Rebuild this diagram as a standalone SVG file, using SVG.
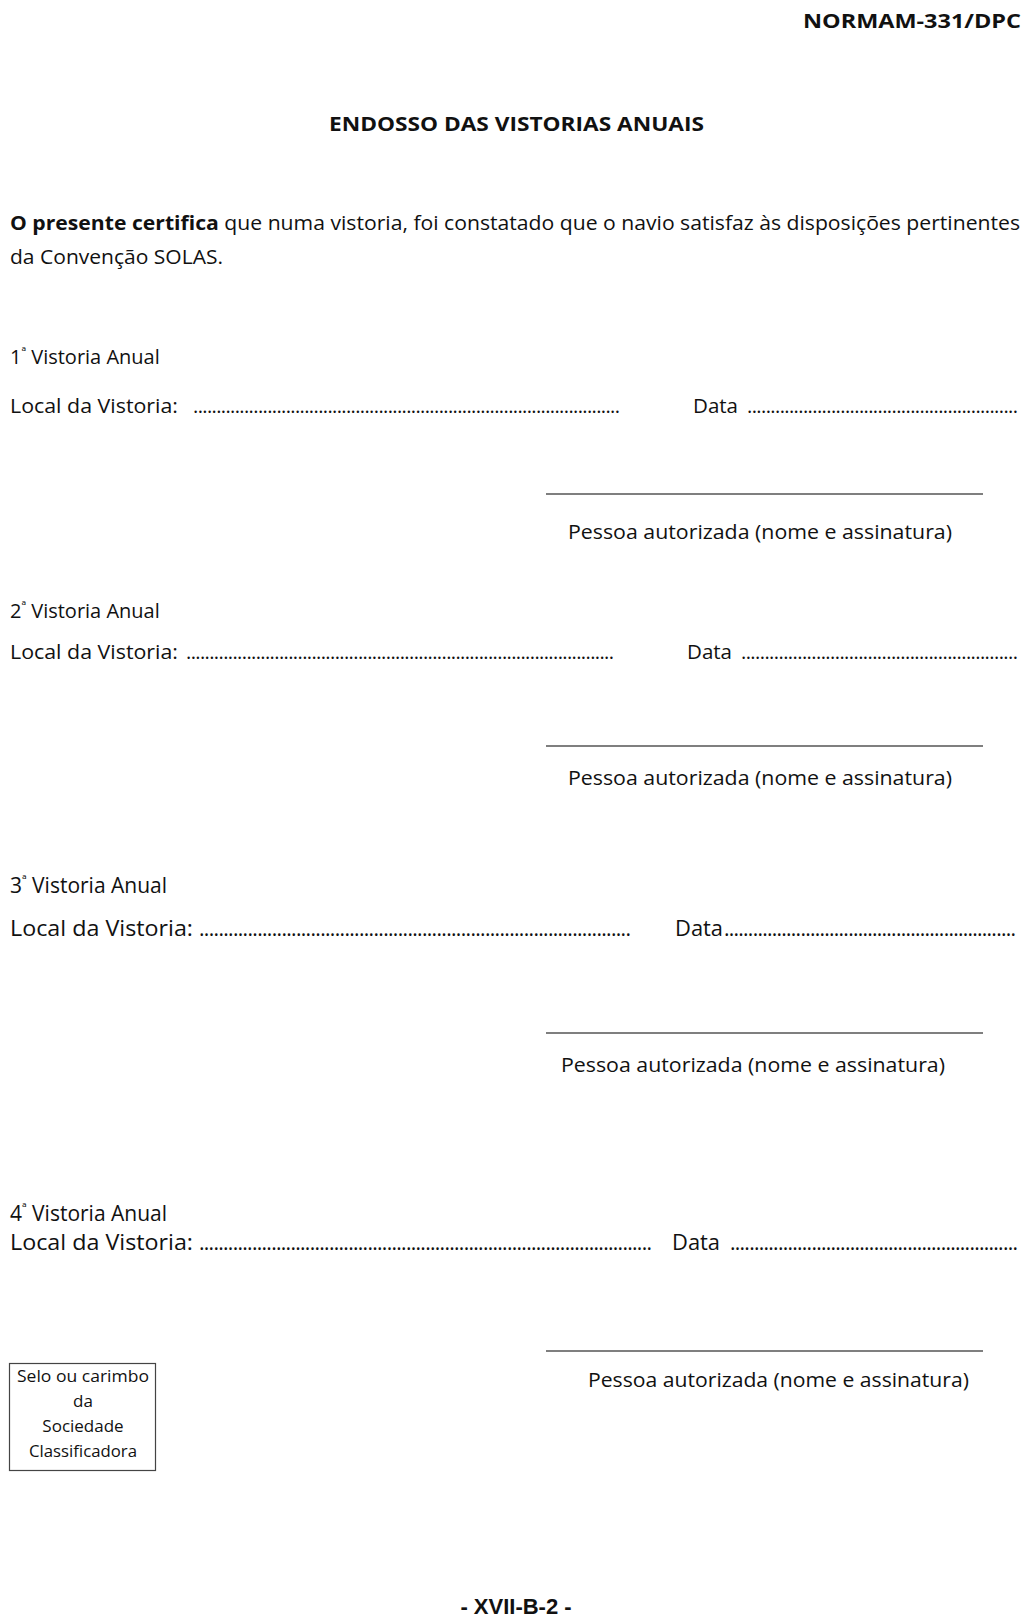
<svg xmlns="http://www.w3.org/2000/svg" width="1024" height="1620" viewBox="0 0 1024 1620">
<style>
text{font-family:"Open Sans","Noto Sans","Liberation Sans",sans-serif;fill:#111;}
.b{font-weight:bold;}
.t{font-size:20px;}
.t2{font-size:21px;}
.sm{font-size:17px;}
.sup{font-size:13px;}
.sig{stroke:#555;stroke-width:1.6;}
.ft{font-family:"Liberation Sans",Arial,sans-serif;font-weight:bold;font-size:22px;}
</style>
<rect width="1024" height="1620" fill="#fff"/>
<g id="header">
<text class="b" x="803" y="28" font-size="20" textLength="218" lengthAdjust="spacingAndGlyphs">NORMAM-331/DPC</text>
<text class="b" x="329" y="131" font-size="20" textLength="375" lengthAdjust="spacingAndGlyphs">ENDOSSO DAS VISTORIAS ANUAIS</text>
</g>
<g id="intro">
<text class="t" x="10" y="230" textLength="1010" lengthAdjust="spacingAndGlyphs"><tspan class="b">O presente certifica</tspan> que numa vistoria, foi constatado que o navio satisfaz às disposições pertinentes</text>
<text class="t" x="10" y="264" textLength="213" lengthAdjust="spacingAndGlyphs">da Convenção SOLAS.</text>
</g>
<g id="vistoria1">
<text class="t" x="10" y="364">1<tspan class="sup" dy="-8">ª</tspan><tspan dy="8"> </tspan><tspan>Vistoria Anual</tspan></text>
<text class="t" x="10" y="413" textLength="168" lengthAdjust="spacingAndGlyphs">Local da Vistoria:</text>
<text class="t" x="193" y="413" textLength="427" lengthAdjust="spacing">............................................................................................</text>
<text class="t" x="693" y="413" textLength="45" lengthAdjust="spacingAndGlyphs">Data</text>
<text class="t" x="747" y="413" textLength="271" lengthAdjust="spacing">..........................................................</text>
<line class="sig" x1="546" y1="494" x2="983" y2="494"/>
<text class="t" x="568" y="539" textLength="384" lengthAdjust="spacingAndGlyphs">Pessoa autorizada (nome e assinatura)</text>
</g>
<g id="vistoria2">
<text class="t" x="10" y="618">2<tspan class="sup" dy="-8">ª</tspan><tspan dy="8"> </tspan><tspan>Vistoria Anual</tspan></text>
<text class="t" x="10" y="659" textLength="168" lengthAdjust="spacingAndGlyphs">Local da Vistoria:</text>
<text class="t" x="186" y="659" textLength="428" lengthAdjust="spacing">............................................................................................</text>
<text class="t" x="687" y="659" textLength="45" lengthAdjust="spacingAndGlyphs">Data</text>
<text class="t" x="741" y="659" textLength="277" lengthAdjust="spacing">...........................................................</text>
<line class="sig" x1="546" y1="746" x2="983" y2="746"/>
<text class="t" x="568" y="785" textLength="384" lengthAdjust="spacingAndGlyphs">Pessoa autorizada (nome e assinatura)</text>
</g>
<g id="vistoria3">
<text class="t2" x="10" y="893">3<tspan class="sup" dy="-9">ª</tspan><tspan dy="9"> </tspan><tspan>Vistoria Anual</tspan></text>
<text class="t2" x="10" y="936" textLength="183" lengthAdjust="spacingAndGlyphs">Local da Vistoria:</text>
<text class="t2" x="199" y="936" textLength="432" lengthAdjust="spacing">.........................................................................................</text>
<text class="t2" x="675" y="936" textLength="48" lengthAdjust="spacingAndGlyphs">Data</text>
<text class="t2" x="724" y="936" textLength="292" lengthAdjust="spacing">.............................................................</text>
<line class="sig" x1="546" y1="1033" x2="983" y2="1033"/>
<text class="t" x="561" y="1072" textLength="384" lengthAdjust="spacingAndGlyphs">Pessoa autorizada (nome e assinatura)</text>
</g>
<g id="vistoria4">
<text class="t2" x="10" y="1221">4<tspan class="sup" dy="-9">ª</tspan><tspan dy="9"> </tspan><tspan>Vistoria Anual</tspan></text>
<text class="t2" x="10" y="1250" textLength="183" lengthAdjust="spacingAndGlyphs">Local da Vistoria:</text>
<text class="t2" x="199" y="1250" textLength="453" lengthAdjust="spacing">..............................................................................................</text>
<text class="t2" x="672" y="1250" textLength="48" lengthAdjust="spacingAndGlyphs">Data</text>
<text class="t2" x="730" y="1250" textLength="288" lengthAdjust="spacing">............................................................</text>
<line class="sig" x1="546" y1="1351" x2="983" y2="1351"/>
<text class="t" x="588" y="1387" textLength="381" lengthAdjust="spacingAndGlyphs">Pessoa autorizada (nome e assinatura)</text>
</g>
<g id="selo">
<rect x="9.5" y="1363.5" width="146" height="107" fill="none" stroke="#444" stroke-width="1.2"/>
<text class="sm" x="83" y="1382" text-anchor="middle" textLength="132" lengthAdjust="spacingAndGlyphs">Selo ou carimbo</text>
<text class="sm" x="83" y="1407" text-anchor="middle">da</text>
<text class="sm" x="83" y="1432" text-anchor="middle">Sociedade</text>
<text class="sm" x="83" y="1457" text-anchor="middle" textLength="108" lengthAdjust="spacingAndGlyphs">Classificadora</text>
</g>
<g id="footer">
<text class="ft" x="516" y="1614" text-anchor="middle">- XVII-B-2 -</text>
</g>
</svg>
